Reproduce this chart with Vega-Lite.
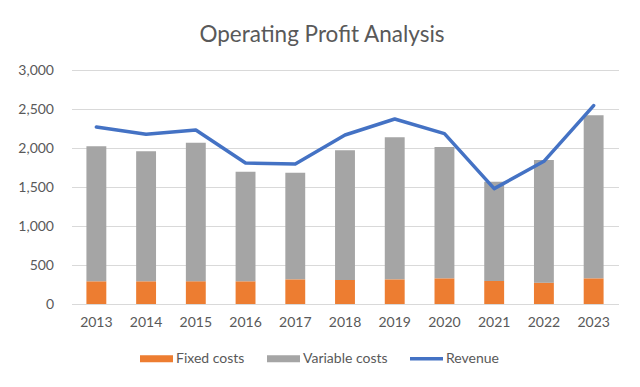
{
  "$schema": "https://vega.github.io/schema/vega-lite/v6.json",
  "width": 547,
  "height": 234,
  "autosize": {"type": "none"},
  "padding": {"left": 71.5, "top": 70, "right": 21.5, "bottom": 83},
  "background": "white",
  "config": {"font": "Lato", "view": {"stroke": null}},
  "title": {
    "text": "Operating Profit Analysis",
    "fontSize": 22.5,
    "font": "Lato",
    "fontWeight": "normal",
    "color": "#595959",
    "anchor": "middle",
    "baseline": "alphabetic",
    "dx": -23,
    "offset": -1
  },
  "data": {
    "values": [
      {"year": "2013", "series": "Fixed costs", "value": 291},
      {"year": "2014", "series": "Fixed costs", "value": 291},
      {"year": "2015", "series": "Fixed costs", "value": 291},
      {"year": "2016", "series": "Fixed costs", "value": 291},
      {"year": "2017", "series": "Fixed costs", "value": 316},
      {"year": "2018", "series": "Fixed costs", "value": 308},
      {"year": "2019", "series": "Fixed costs", "value": 316},
      {"year": "2020", "series": "Fixed costs", "value": 329},
      {"year": "2021", "series": "Fixed costs", "value": 295},
      {"year": "2022", "series": "Fixed costs", "value": 274},
      {"year": "2023", "series": "Fixed costs", "value": 329},
      {"year": "2013", "series": "Variable costs", "value": 1730},
      {"year": "2014", "series": "Variable costs", "value": 1666},
      {"year": "2015", "series": "Variable costs", "value": 1777},
      {"year": "2016", "series": "Variable costs", "value": 1406},
      {"year": "2017", "series": "Variable costs", "value": 1368},
      {"year": "2018", "series": "Variable costs", "value": 1662},
      {"year": "2019", "series": "Variable costs", "value": 1821},
      {"year": "2020", "series": "Variable costs", "value": 1684},
      {"year": "2021", "series": "Variable costs", "value": 1273},
      {"year": "2022", "series": "Variable costs", "value": 1572},
      {"year": "2023", "series": "Variable costs", "value": 2090},
      {"year": "2013", "series": "Revenue", "value": 2269},
      {"year": "2014", "series": "Revenue", "value": 2175},
      {"year": "2015", "series": "Revenue", "value": 2231},
      {"year": "2016", "series": "Revenue", "value": 1808},
      {"year": "2017", "series": "Revenue", "value": 1795},
      {"year": "2018", "series": "Revenue", "value": 2167},
      {"year": "2019", "series": "Revenue", "value": 2372},
      {"year": "2020", "series": "Revenue", "value": 2184},
      {"year": "2021", "series": "Revenue", "value": 1479},
      {"year": "2022", "series": "Revenue", "value": 1829},
      {"year": "2023", "series": "Revenue", "value": 2543}
    ]
  },
  "encoding": {
    "x": {
      "field": "year",
      "type": "ordinal",
      "scale": {"paddingInner": 0.6, "paddingOuter": 0.3},
      "axis": {
        "title": null,
        "labelAngle": 0,
        "labelFontSize": 14,
        "labelColor": "#595959",
        "labelPadding": 11,
        "ticks": false,
        "domainColor": "#D9D9D9",
        "domainWidth": 1,
        "grid": false
      }
    },
    "y": {
      "field": "value",
      "type": "quantitative",
      "stack": "zero",
      "scale": {"domain": [0, 3000]},
      "axis": {
        "title": null,
        "values": [0, 500, 1000, 1500, 2000, 2500, 3000],
        "labelOverlap": false,
        "format": ",.0f",
        "labelFontSize": 14,
        "labelColor": "#595959",
        "labelPadding": 18,
        "domain": false,
        "ticks": false,
        "gridColor": "#D9D9D9",
        "gridWidth": 1
      }
    },
    "color": {
      "field": "series",
      "type": "nominal",
      "scale": {
        "domain": ["Fixed costs", "Variable costs", "Revenue"],
        "range": ["#ED7D31", "#A5A5A5", "#4472C4"]
      },
      "legend": {
        "title": null,
        "orient": "none",
        "direction": "horizontal",
        "columns": 3,
        "legendX": 68.5,
        "legendY": 272,
        "symbolType": "M-1,-0.21H1V0.21H-1Z",
        "symbolSize": 1089,
        "symbolStrokeWidth": 0,
        "labelFontSize": 14,
        "labelColor": "#595959",
        "labelOffset": 3,
        "columnPadding": 22,
        "encode": {
          "symbols": {
            "update": {
              "shape": {"signal": "datum.value === 'Revenue' ? 'M-1,-0.1H1V0.1H-1Z' : 'M-1,-0.21H1V0.21H-1Z'"},
              "fill": {"signal": "scale('color', datum.value)"},
              "strokeWidth": {"value": 0}
            }
          }
        }
      }
    }
  },
  "layer": [
    {
      "transform": [{"filter": "datum.series !== 'Revenue'"}],
      "mark": {"type": "bar"},
      "encoding": {
        "order": {"field": "series", "type": "nominal", "sort": "ascending"}
      }
    },
    {
      "transform": [{"filter": "datum.series === 'Revenue'"}],
      "mark": {"type": "line", "strokeWidth": 3.5, "strokeCap": "round", "strokeJoin": "round"}
    }
  ]
}
